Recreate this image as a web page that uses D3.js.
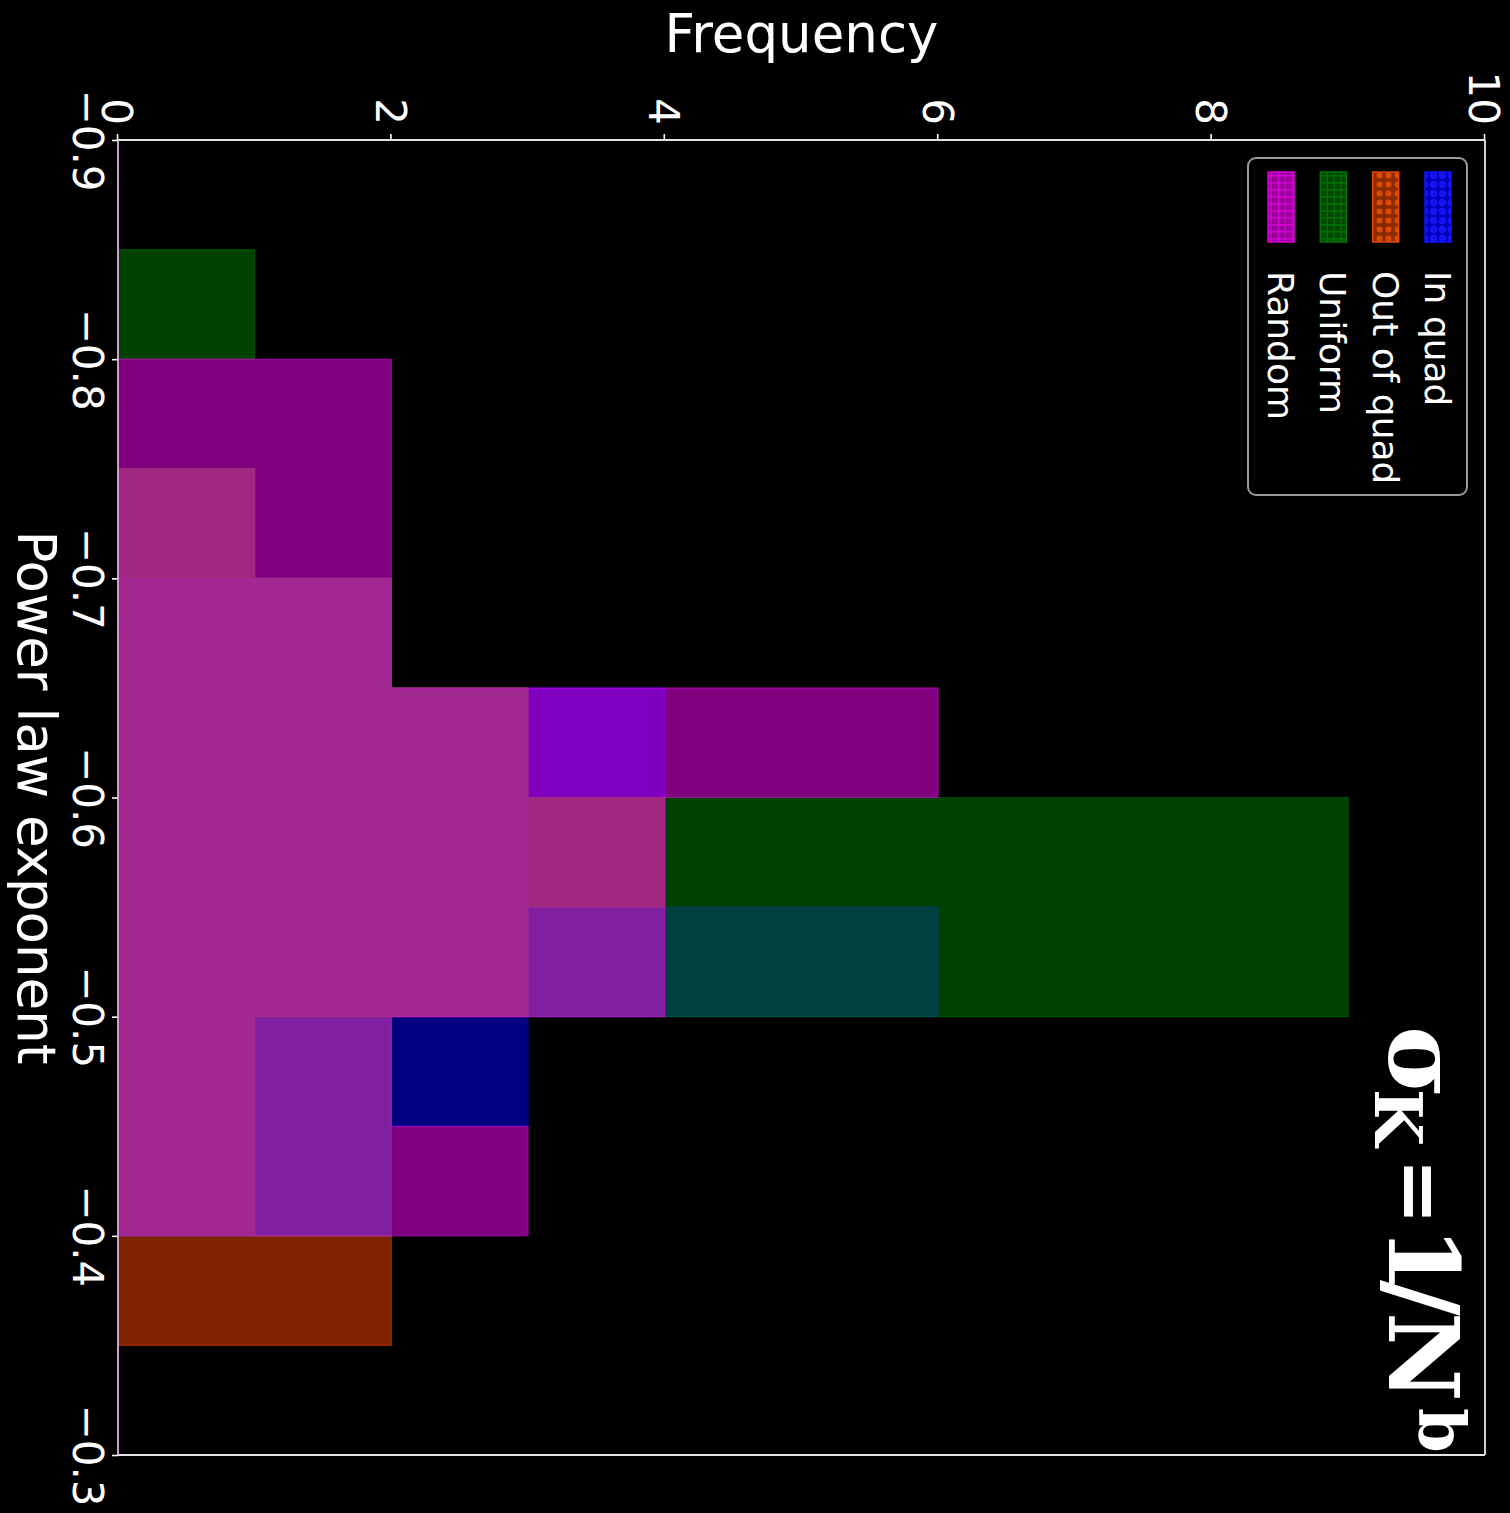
<!DOCTYPE html>
<html>
<head>
<meta charset="utf-8">
<script src="https://cdn.jsdelivr.net/npm/d3@7"></script>
<style>
  html, body { margin: 0; padding: 0; background: #000; }
  svg { display: block; }
</style>
</head>
<body>
<svg id="chart" width="1510" height="1513"></svg>
<script>
// Shared histogram bin edges along the power-law exponent
const binEdges = [-0.9, -0.85, -0.8, -0.75, -0.7, -0.65, -0.6, -0.55, -0.5, -0.45, -0.4, -0.35, -0.3];

// Counts per bin for each sampling scheme
const inQuad    = [0, 0, 0, 0, 2, 4, 3, 6, 3, 2, 0, 0];
const outOfQuad = [0, 0, 0, 1, 2, 3, 4, 3, 1, 1, 2, 0];
const uniform   = [0, 1, 0, 1, 2, 3, 9, 9, 2, 2, 0, 0];
const random    = [0, 0, 2, 2, 2, 6, 4, 4, 2, 3, 0, 0];

const seriesNames  = ["In quad", "Out of quad", "Uniform", "Random"];
const seriesColors = ["#0000ff", "#ff4500", "#008000", "#ff00ff"];

const exponentTicks  = [-0.9, -0.8, -0.7, -0.6, -0.5, -0.4, -0.3];
const frequencyTicks = [0, 2, 4, 6, 8, 10];

const seriesCounts = [inQuad, outOfQuad, uniform, random];

// The figure is laid out in a W x H frame, then turned a quarter turn clockwise
const W = 1513, H = 1510;
const plot = { left: 140, right: 1455, top: 25, bottom: 1392 };

const svg = d3.select("#chart");
svg.append("rect").attr("width", 1510).attr("height", 1513).attr("fill", "#000");

const defs = svg.append("defs");
const g = svg.append("g").attr("transform", `translate(${H},0) rotate(90)`);

const x = d3.scaleLinear().domain([binEdges[0], binEdges[binEdges.length - 1]]).range([plot.left, plot.right]);
const y = d3.scaleLinear().domain([0, 10]).range([plot.bottom, plot.top]);

defs.append("clipPath").attr("id", "plotClip")
  .append("rect")
  .attr("x", plot.left).attr("y", plot.top)
  .attr("width", plot.right - plot.left).attr("height", plot.bottom - plot.top);

// Step-filled histograms, translucent, drawn in legend order
const stepLine = d3.line().x(d => x(d[0])).y(d => y(d[1]));
const bars = g.append("g").attr("clip-path", "url(#plotClip)");
seriesCounts.forEach((counts, si) => {
  const pts = [[binEdges[0], 0]];
  counts.forEach((c, i) => { pts.push([binEdges[i], c]); pts.push([binEdges[i + 1], c]); });
  pts.push([binEdges[binEdges.length - 1], 0]);
  bars.append("path")
    .attr("d", stepLine(pts) + "Z")
    .attr("fill", seriesColors[si]).attr("fill-opacity", 0.5)
    .attr("stroke", seriesColors[si]).attr("stroke-opacity", 0.45)
    .attr("stroke-width", 1.1).attr("stroke-linejoin", "miter");
});

// Axes
const fmt = d3.format(".1f");
const xAxis = d3.axisBottom(x).tickValues(exponentTicks).tickFormat(fmt)
  .tickSize(6).tickPadding(9);
const yAxis = d3.axisLeft(y).tickValues(frequencyTicks).tickFormat(d3.format("d"))
  .tickSize(6).tickPadding(9);

function styleAxis(sel) {
  sel.attr("font-family", "'DejaVu Sans', sans-serif").attr("font-size", 42);
  sel.select(".domain").remove();
  sel.selectAll(".tick line").attr("stroke", "#fff").attr("stroke-width", 1.6);
  sel.selectAll(".tick text").attr("fill", "#fff");
}
g.append("g").attr("transform", `translate(0,${plot.bottom})`).call(xAxis).call(styleAxis);
g.append("g").attr("transform", `translate(${plot.left},0)`).call(yAxis).call(styleAxis)
  .selectAll(".tick text").attr("dy", "0.36em");

// Spines
const spines = g.append("g").attr("fill", "none").attr("stroke-width", 1.8);
spines.append("line").attr("x1", plot.left).attr("x2", plot.right).attr("y1", plot.top).attr("y2", plot.top).attr("stroke", "#e6e6e6");
spines.append("line").attr("x1", plot.left).attr("x2", plot.left).attr("y1", plot.top).attr("y2", plot.bottom).attr("stroke", "#e6e6e6");
spines.append("line").attr("x1", plot.right).attr("x2", plot.right).attr("y1", plot.top).attr("y2", plot.bottom).attr("stroke", "#e6e6e6");
spines.append("line").attr("x1", plot.left).attr("x2", plot.right).attr("y1", plot.bottom).attr("y2", plot.bottom).attr("stroke", "#d8b2d8");

// Axis labels
g.append("text")
  .attr("x", (plot.left + plot.right) / 2).attr("y", 1492)
  .attr("text-anchor", "middle")
  .attr("font-family", "'DejaVu Sans', sans-serif").attr("font-size", 53)
  .attr("fill", "#fff")
  .text("Power law exponent");

g.append("text")
  .attr("transform", `translate(52,${(plot.top + plot.bottom) / 2}) rotate(-90)`)
  .attr("text-anchor", "middle")
  .attr("font-family", "'DejaVu Sans', sans-serif").attr("font-size", 53)
  .attr("fill", "#fff")
  .text("Frequency");

// Hatch patterns for the legend swatches
function gridPattern(id, base, lineCol) {
  const p = defs.append("pattern").attr("id", id).attr("patternUnits", "userSpaceOnUse")
    .attr("width", 7).attr("height", 7);
  p.append("rect").attr("width", 7).attr("height", 7).attr("fill", base);
  p.append("path").attr("d", "M0,0.8H7M0.8,0V7").attr("stroke", lineCol).attr("stroke-width", 1.6);
}
function dotPattern(id, base, dotCol, size, r) {
  const p = defs.append("pattern").attr("id", id).attr("patternUnits", "userSpaceOnUse")
    .attr("width", size).attr("height", size);
  p.append("rect").attr("width", size).attr("height", size).attr("fill", base);
  p.append("circle").attr("cx", size / 2).attr("cy", size / 2).attr("r", r).attr("fill", dotCol);
}
dotPattern("hatchIn", "#0000b8", "#1414f0", 9, 3.8);
dotPattern("hatchOut", "#8c2a00", "#dd4a00", 9, 3);
gridPattern("hatchUni", "#004600", "#007000");
gridPattern("hatchRand", "#960096", "#d200d2");
const hatchIds = ["hatchIn", "hatchOut", "hatchUni", "hatchRand"];
const edgeCols = ["#1010ff", "#e04a00", "#007a00", "#d800d8"];

// Legend
const legend = g.append("g");
legend.append("rect")
  .attr("x", 158).attr("y", 43).attr("width", 337).attr("height", 219)
  .attr("rx", 8).attr("ry", 8)
  .attr("fill", "#000").attr("stroke", "#9a9a9a").attr("stroke-width", 2);
const rowY = d3.scalePoint().domain(seriesNames).range([59, 216]);
seriesNames.forEach((name, i) => {
  legend.append("rect")
    .attr("x", 172).attr("y", rowY(name)).attr("width", 70).attr("height", 26)
    .attr("fill", `url(#${hatchIds[i]})`)
    .attr("stroke", edgeCols[i]).attr("stroke-width", 1.5);
  legend.append("text")
    .attr("x", 271).attr("y", rowY(name) + 26)
    .attr("font-family", "'DejaVu Sans', sans-serif").attr("font-size", 36)
    .attr("fill", "#fff")
    .text(name);
});

// Model annotation: sigma_K = 1/N^b
const title = g.append("text")
  .attr("font-family", "'DejaVu Serif', serif").attr("font-weight", "bold")
  .attr("fill", "#fff");
title.append("tspan").attr("x", 1026).attr("y", 121).attr("font-size", 98).text("σ");
title.append("tspan").attr("x", 1089).attr("y", 135).attr("font-size", 66).text("K");
title.append("tspan").attr("x", 1158).attr("y", 118).attr("font-size", 80).text("=");
title.append("tspan").attr("x", 1226).attr("y", 121).attr("font-size", 98).text("1");
title.append("tspan").attr("x", 1280).attr("y", 121).attr("font-size", 98).text("/");
title.append("tspan").attr("x", 1312).attr("y", 121).attr("font-size", 98).text("N");
title.append("tspan").attr("x", 1408).attr("y", 90).attr("font-size", 64).text("b");
</script>
</body>
</html>
